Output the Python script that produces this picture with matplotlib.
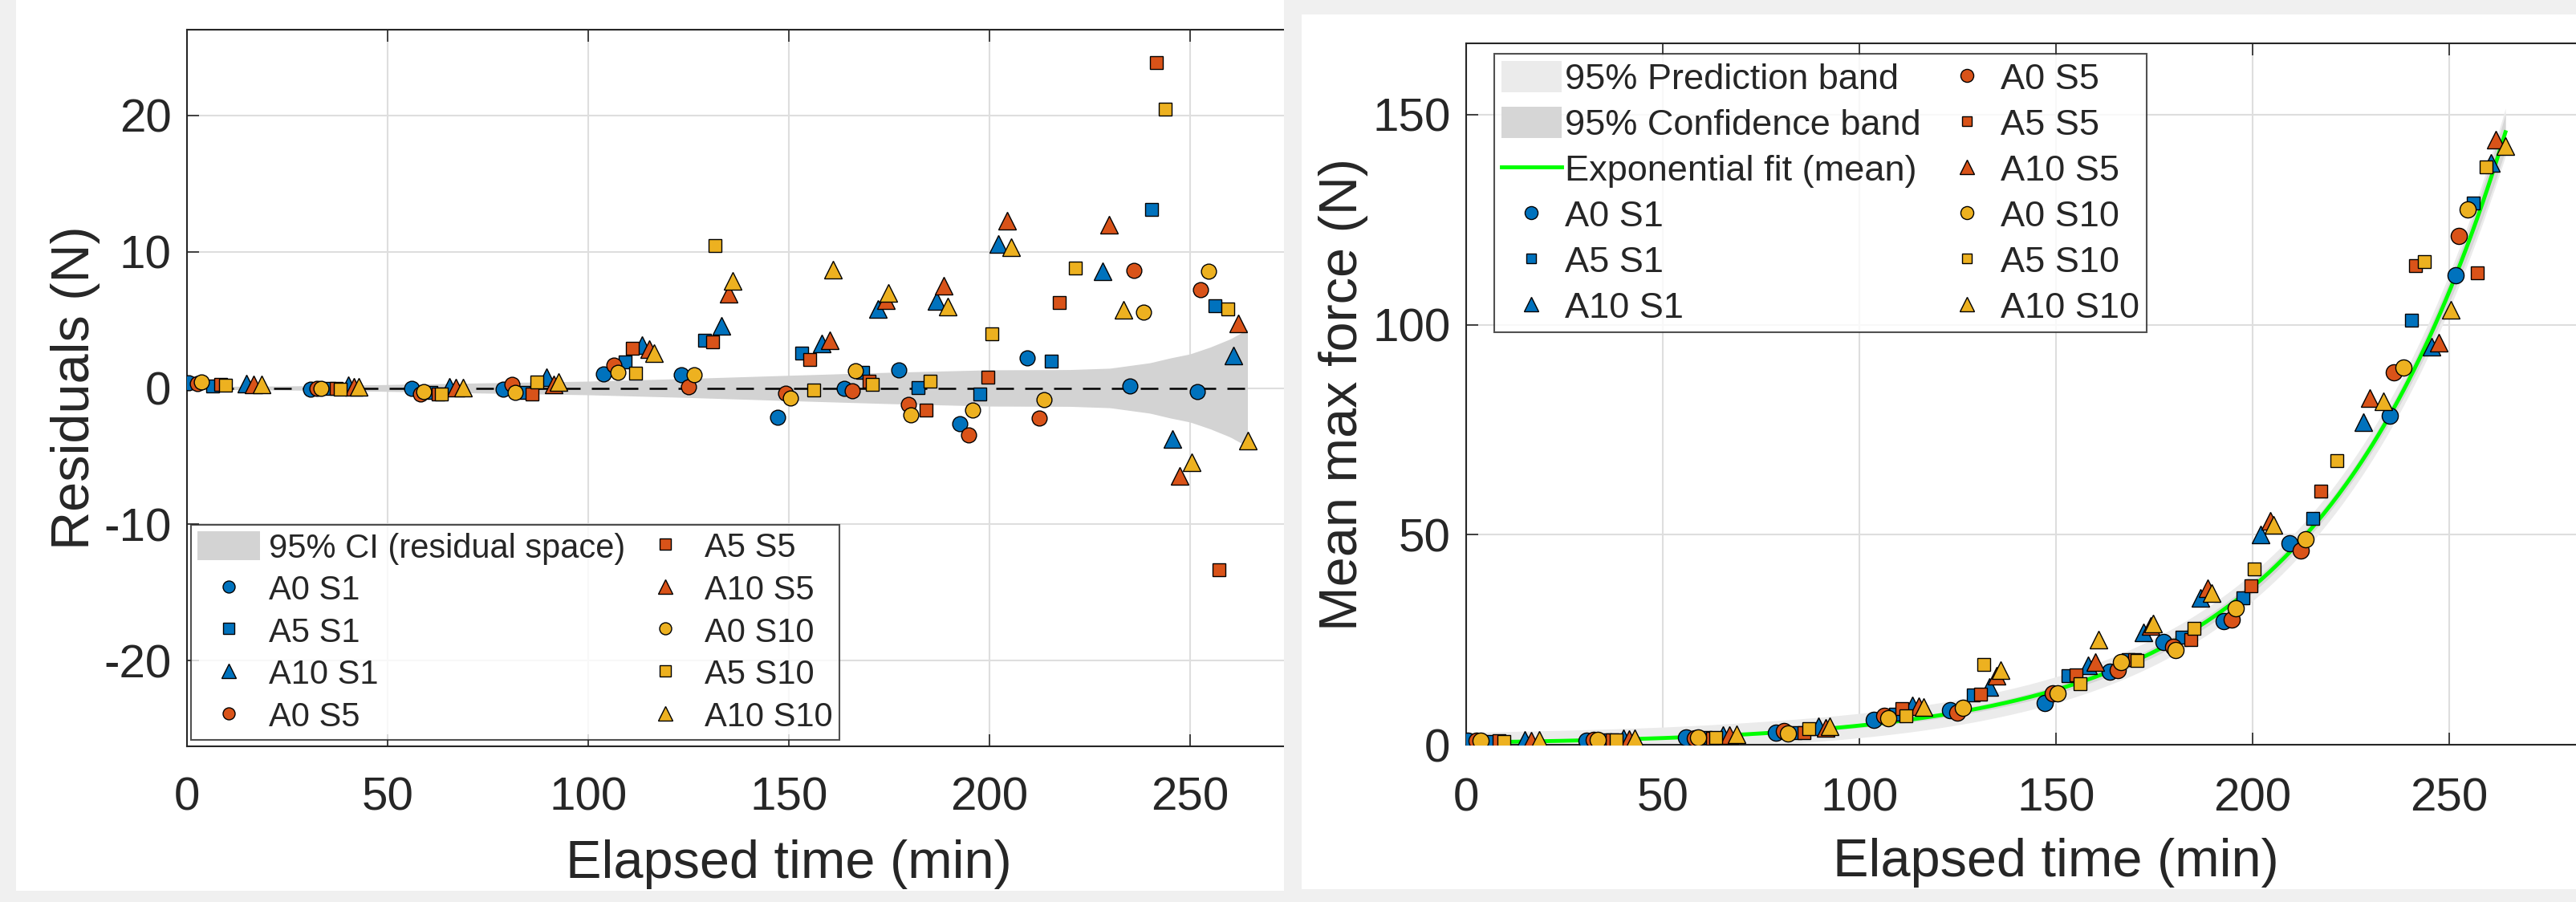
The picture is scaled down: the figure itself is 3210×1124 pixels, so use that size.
import numpy as np
import matplotlib.pyplot as plt
from matplotlib.patches import Rectangle, Patch
from matplotlib.lines import Line2D

plt.rcParams['font.family'] = ['Liberation Sans', 'DejaVu Sans']
plt.rcParams['axes.unicode_minus'] = False

# ---------------- data ----------------
labels = ['A0 S1', 'A5 S1', 'A10 S1', 'A0 S5', 'A5 S5', 'A10 S5', 'A0 S10', 'A5 S10', 'A10 S10']

time_a0_s1 = [0.4, 30.7, 56.0, 78.7, 103.7, 123.1, 147.2, 163.7, 177.4, 192.6, 209.4, 234.9, 251.7]
time_a5_s1 = [6.4, 35.3, 60.8, 83.7, 109.1, 128.9, 153.1, 168.4, 182.1, 197.5, 215.4, 240.4, 256.2]
time_a10_s1 = [14.8, 40.1, 65.3, 89.5, 113.4, 133.1, 158.1, 172.2, 186.7, 202.1, 228.2, 245.5, 260.7]
time_a0_s5 = [2.6, 32.4, 58.1, 80.9, 106.4, 124.9, 149.1, 165.7, 179.7, 194.7, 212.3, 235.9, 252.5]
time_a5_s5 = [8.3, 37.2, 62.6, 85.9, 110.9, 130.9, 155.2, 169.9, 184.2, 199.6, 217.4, 241.5, 257.2]
time_a10_s5 = [16.5, 41.5, 66.9, 91.4, 115.1, 134.9, 160.1, 174.1, 188.6, 204.4, 229.7, 247.3, 261.9]
time_a0_s10 = [3.6, 33.4, 59.0, 81.8, 107.4, 126.3, 150.4, 166.5, 180.4, 195.7, 213.5, 238.4, 254.6]
time_a5_s10 = [9.6, 38.2, 63.4, 87.2, 111.8, 131.6, 156.1, 170.7, 185.1, 200.5, 221.4, 243.7, 259.4]
time_a10_s10 = [18.6, 42.8, 68.8, 92.5, 116.4, 135.9, 160.9, 174.7, 189.5, 205.3, 233.3, 250.4, 264.3]

resid_a0_s1 = [0.39, -0.06, 0.0, -0.06, 1.06, 0.96, -2.16, -0.02, 1.35, -2.65, 2.2, 0.14, -0.25]
resid_a5_s1 = [0.14, 0.0, -0.35, -0.35, 1.9, 3.53, 2.59, 1.16, 0.04, -0.45, 1.96, 13.1, 6.02]
resid_a10_s1 = [0.33, 0.2, 0.1, 0.82, 3.14, 4.55, 3.27, 5.82, 6.41, 10.6, 8.57, -3.72, 2.41]
resid_a0_s5 = [0.33, 0.0, -0.45, 0.24, 1.67, 0.1, -0.39, -0.2, -1.18, -3.43, -2.22, 8.63, 7.22]
resid_a5_s5 = [0.24, 0.0, -0.45, -0.45, 2.94, 3.37, 2.1, 0.53, -1.63, 0.78, 6.27, 23.9, -13.37]
resid_a10_s5 = [0.28, 0.1, 0.05, 0.24, 2.84, 6.9, 3.53, 6.47, 7.53, 12.3, 12.0, -6.44, 4.76]
resid_a0_s10 = [0.47, 0.0, -0.25, -0.35, 1.12, 0.98, -0.75, 1.27, -1.98, -1.63, -0.88, 5.59, 8.55]
resid_a5_s10 = [0.18, -0.06, -0.45, 0.43, 1.08, 10.43, -0.12, 0.24, 0.49, 3.96, 8.8, 20.44, 5.83]
resid_a10_s10 = [0.28, 0.1, 0.05, 0.47, 2.55, 7.88, 8.7, 7.0, 5.96, 10.33, 5.73, -5.45, -3.85]

force_a0_s1 = [0.95, 1.0, 1.8, 2.8, 5.9, 8.3, 10.0, 17.3, 24.5, 29.4, 48.0, 78.4, 111.7]
force_a5_s1 = [0.8, 1.15, 1.65, 2.9, 7.3, 11.8, 16.4, 20.2, 25.6, 35.0, 53.8, 101.1, 128.9]
force_a10_s1 = [1.1, 1.5, 2.3, 4.45, 9.3, 13.8, 19.0, 26.7, 34.9, 50.0, 76.9, 94.7, 138.5]
force_a0_s5 = [0.9, 1.1, 1.45, 3.2, 6.8, 7.6, 12.3, 17.8, 23.3, 29.9, 46.2, 88.7, 121.1]
force_a5_s5 = [0.9, 1.2, 1.6, 2.9, 8.6, 12.0, 16.6, 20.3, 25.1, 37.9, 60.4, 114.0, 112.4]
force_a10_s5 = [1.05, 1.4, 2.3, 4.05, 9.15, 16.5, 19.7, 28.3, 37.2, 53.4, 82.6, 95.7, 144.1]
force_a0_s10 = [1.05, 1.1, 1.65, 2.75, 6.35, 8.8, 12.3, 19.6, 22.6, 32.4, 49.0, 89.9, 127.5]
force_a5_s10 = [0.85, 1.2, 1.65, 3.9, 6.85, 19.2, 14.6, 20.1, 27.8, 41.8, 67.6, 115.0, 137.6]
force_a10_s10 = [1.1, 1.45, 2.4, 4.35, 9.05, 17.7, 25.1, 28.9, 36.2, 52.4, 81.7, 103.5, 142.6]

# exponential fit F = a*exp(b*t) as drawn, and band half-widths (N)
fit_a, fit_b = 0.552, 0.0211
band_t = [0, 25, 50, 75, 100, 125, 150, 175, 200, 220, 230, 240, 245, 250, 255, 260, 264.3]
ci_half = [0.1, 0.15, 0.25, 0.38, 0.5, 0.7, 0.93, 1.15, 1.33, 1.35, 1.45, 1.85, 2.2, 2.5, 3.0, 3.6, 4.3]
pi_half = [2.4, 2.5, 2.6, 2.8, 2.9, 3.0, 3.1, 3.2, 3.3, 3.4, 3.5, 3.7, 3.9, 4.2, 4.6, 5.1, 5.7]

times = [time_a0_s1, time_a5_s1, time_a10_s1, time_a0_s5, time_a5_s5, time_a10_s5,
         time_a0_s10, time_a5_s10, time_a10_s10]
resids = [resid_a0_s1, resid_a5_s1, resid_a10_s1, resid_a0_s5, resid_a5_s5, resid_a10_s5,
          resid_a0_s10, resid_a5_s10, resid_a10_s10]
forces = [force_a0_s1, force_a5_s1, force_a10_s1, force_a0_s5, force_a5_s5, force_a10_s5,
          force_a0_s10, force_a5_s10, force_a10_s10]

# ---------------- styling ----------------
blue, orange, yellow = '#0072BD', '#D95319', '#EDB120'
colors = [blue] * 3 + [orange] * 3 + [yellow] * 3
markers = ['o', 's', '^'] * 3
dark = '#262626'

W, H = 3210, 1124
fig = plt.figure(figsize=(W / 100, H / 100), dpi=100, facecolor='#f0f0f0')


def fig_rect(x0, y0, x1, y1, color, z):
    # pixel box (top-left origin) -> figure rectangle
    fig.add_artist(Rectangle((x0 / W, 1 - y1 / H), (x1 - x0) / W, (y1 - y0) / H,
                             transform=fig.transFigure, facecolor=color,
                             edgecolor='none', zorder=z))


def px_axes(x0, y0, x1, y1):
    return fig.add_axes([x0 / W, 1 - y1 / H, (x1 - x0) / W, (y1 - y0) / H])


def style_axes(ax, xpad):
    ax.grid(True, color='#dedede', linewidth=1.5)
    ax.set_axisbelow(True)
    for sp in ax.spines.values():
        sp.set_color(dark)
        sp.set_linewidth(1.5)
    ax.tick_params(direction='in', length=11, width=1.2, top=True, right=True,
                   labelsize=42, colors=dark)
    ax.tick_params(axis='x', pad=xpad)
    ax.tick_params(axis='y', pad=14)


def legend_box(ax, handles, anchor, loc, fs, hl, htp, cs, ls):
    leg = ax.legend(handles=handles, ncol=2, loc=loc, bbox_to_anchor=anchor,
                    bbox_transform=fig.transFigure, fontsize=fs, frameon=True,
                    fancybox=False, borderaxespad=0, borderpad=0.2, labelspacing=ls,
                    handlelength=hl, handleheight=0.95, handletextpad=htp,
                    columnspacing=cs)
    leg.get_frame().set_edgecolor(dark)
    leg.get_frame().set_linewidth(1.5)
    for txt in leg.get_texts():
        txt.set_color(dark)
    return leg


def marker_handles(sizes):
    out = []
    for lab, c, m in zip(labels, colors, markers):
        out.append(Line2D([], [], linestyle='none', marker=m, markersize=sizes[m] * 0.8,
                          markerfacecolor=c, markeredgecolor='k', markeredgewidth=1.0,
                          label=lab))
    return out


fig_rect(20, 0, 1600, 1110, 'white', 0.5)

# ---------------- left: residuals ----------------
axl = px_axes(233, 37, 1733, 930)
axl.set_zorder(1)
style_axes(axl, 27)

msize = {'o': 13.5, 's': 12, '^': 15.5}
t_dense = np.linspace(0, max(band_t), 400)
ci_dense = np.interp(t_dense, band_t, ci_half)
axl.fill_between(t_dense, -ci_dense, ci_dense, color='#d3d3d3', linewidth=0, zorder=1)
axl.plot([0, max(band_t)], [0, 0], color='k', linestyle='--', dashes=(8.8, 5.6),
         linewidth=1.8, zorder=2)
for t, r, c, m in zip(times, resids, colors, markers):
    axl.plot(t, r, linestyle='none', marker=m, markersize=msize[m], markerfacecolor=c,
             markeredgecolor='k', markeredgewidth=1.0, zorder=3)

axl.set_xlim(0, 300)
axl.set_ylim(-26.3, 26.3)
axl.set_xticks([0, 50, 100, 150, 200, 250])
axl.set_yticks([-20, -10, 0, 10, 20])
axl.set_xlabel('Elapsed time (min)', fontsize=48, color=dark, labelpad=18)
axl.set_ylabel('Residuals (N)', fontsize=48, color=dark, labelpad=3)

h_l = [Patch(facecolor='#d3d3d3', edgecolor='none', label='95% CI (residual space)')]
h_l += marker_handles(msize)
legend_box(axl, h_l, (238 / W, 1 - 922 / H), 'lower left', 30, 1.87, 0.26, 0.25, 0.27)

# cover the gap and right panel so the left axes looks cropped
fig_rect(1600, 0, 3210, 1124, '#f0f0f0', 2)
fig_rect(1622, 18, 3210, 1108, 'white', 2.1)

# ---------------- right: mean max force ----------------
axr = px_axes(1827, 54, 3297, 928)
axr.set_zorder(3)
style_axes(axr, 29)

msize_r = {'o': 14.5, 's': 11.5, '^': 16}
fit_dense = fit_a * np.exp(fit_b * t_dense)
pi_dense = np.interp(t_dense, band_t, pi_half)
axr.fill_between(t_dense, fit_dense - pi_dense, fit_dense + pi_dense, color='#ebebeb',
                 linewidth=0, zorder=1)
axr.fill_between(t_dense, fit_dense - ci_dense, fit_dense + ci_dense, color='#d6d6d6',
                 linewidth=0, zorder=1.1)
axr.plot(t_dense, fit_dense, color='#00ff00', linewidth=3.5, zorder=2)
for t, f, c, m in zip(times, forces, colors, markers):
    axr.plot(t, f, linestyle='none', marker=m, markersize=msize_r[m], markerfacecolor=c,
             markeredgecolor='k', markeredgewidth=1.0, zorder=3)

axr.set_xlim(0, 300)
axr.set_ylim(0, 167)
axr.set_xticks([0, 50, 100, 150, 200, 250])
axr.set_yticks([0, 50, 100, 150])
axr.set_xlabel('Elapsed time (min)', fontsize=48, color=dark, labelpad=16)
axr.set_ylabel('Mean max force (N)', fontsize=48, color=dark, labelpad=4)

h_r = [Patch(facecolor='#ebebeb', edgecolor='none', label='95% Prediction band'),
       Patch(facecolor='#d6d6d6', edgecolor='none', label='95% Confidence band'),
       Line2D([], [], color='#00ff00', linewidth=3.5, label='Exponential fit (mean)')]
h_r += marker_handles(msize_r)
legend_box(axr, h_r, (1862 / W, 1 - 67 / H), 'upper left', 32.5, 1.65, 0.11, 0.44, 0.29)

fig.savefig('out.png', dpi=100, facecolor=fig.get_facecolor())
